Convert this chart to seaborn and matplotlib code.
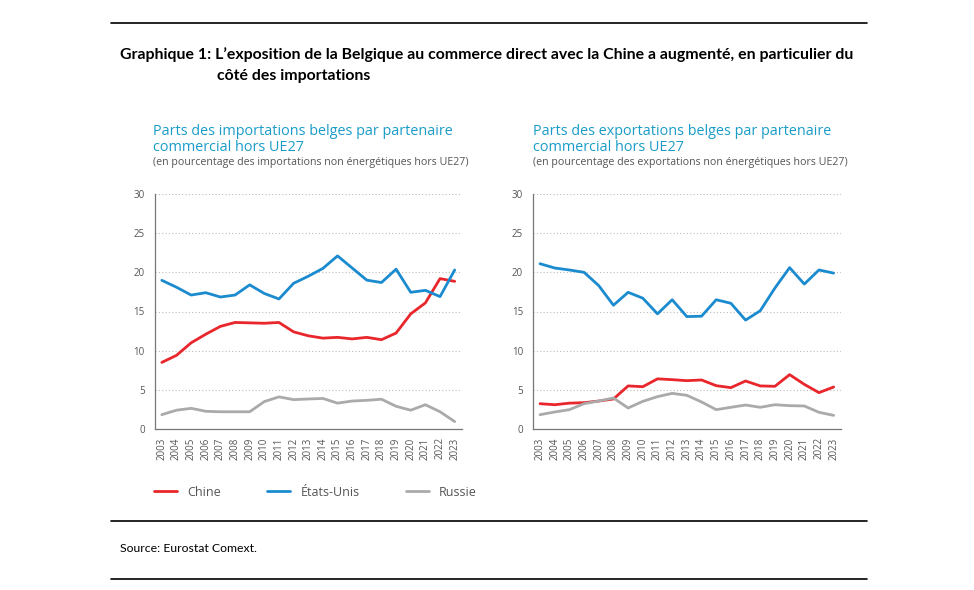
import numpy as np
import pandas as pd
import matplotlib
matplotlib.use("Agg")
import matplotlib.pyplot as plt
from matplotlib.lines import Line2D
import seaborn as sns

years = list(range(2003, 2024))

imp_chine = [8.5, 9.4, 11.0, 12.1, 13.1, 13.6, 13.55, 13.5, 13.6, 12.4, 11.9, 11.6, 11.7, 11.5, 11.7, 11.4, 12.25, 14.7, 16.1, 19.2, 18.85]
imp_usa = [18.98, 18.1, 17.1, 17.4, 16.85, 17.1, 18.4, 17.3, 16.6, 18.6, 19.5, 20.5, 22.1, 20.55, 19.0, 18.7, 20.4, 17.45, 17.7, 16.9, 20.3]
imp_russie = [1.83, 2.4, 2.64, 2.26, 2.2, 2.2, 2.2, 3.5, 4.1, 3.75, 3.83, 3.9, 3.3, 3.57, 3.66, 3.8, 2.9, 2.4, 3.1, 2.2, 0.95]

exp_chine = [3.23, 3.1, 3.3, 3.36, 3.57, 3.83, 5.5, 5.4, 6.4, 6.3, 6.17, 6.26, 5.53, 5.28, 6.13, 5.5, 5.45, 6.94, 5.7, 4.64, 5.36]
exp_usa = [21.1, 20.55, 20.3, 20.0, 18.3, 15.8, 17.45, 16.7, 14.7, 16.5, 14.35, 14.4, 16.5, 16.05, 13.9, 15.1, 18.0, 20.6, 18.5, 20.3, 19.9]
exp_russie = [1.83, 2.17, 2.47, 3.23, 3.57, 3.96, 2.68, 3.53, 4.13, 4.55, 4.3, 3.45, 2.47, 2.77, 3.06, 2.77, 3.1, 2.98, 2.94, 2.13, 1.74]

partners = ["Chine", "États-Unis", "Russie"]
colors = {"Chine": "#E8262B", "États-Unis": "#1B8BCF", "Russie": "#AAAAAA"}
y_ticks = [0, 5, 10, 15, 20, 25, 30]

main_title_1 = "Graphique 1: L’exposition de la Belgique au commerce direct avec la Chine a augmenté, en particulier du"
main_title_2 = "côté des importations"
left_title = "Parts des importations belges par partenaire\ncommercial hors UE27"
left_sub = "(en pourcentage des importations non énergétiques hors UE27)"
right_title = "Parts des exportations belges par partenaire\ncommercial hors UE27"
right_sub = "(en pourcentage des exportations non énergétiques hors UE27)"
source = "Source: Eurostat Comext."


def long_df(ch, us, ru):
    return pd.DataFrame({
        "year": years * 3,
        "value": ch + us + ru,
        "partner": ["Chine"] * len(years) + ["États-Unis"] * len(years) + ["Russie"] * len(years),
    })


sns.set_style("white")
plt.rcParams["font.family"] = ["Open Sans", "DejaVu Sans"]

W, H = 974, 590
fig = plt.figure(figsize=(W / 100, H / 100), dpi=100)


def fx(px):
    return px / W


def fy(py):
    return 1 - py / H


ax_l = fig.add_axes([fx(154.5), fy(429), fx(462) - fx(154.5), (429 - 194) / H])
ax_r = fig.add_axes([fx(532.7), fy(429), fx(841) - fx(532.7), (429 - 194) / H])

for ax, df in [(ax_l, long_df(imp_chine, imp_usa, imp_russie)),
               (ax_r, long_df(exp_chine, exp_usa, exp_russie))]:
    sns.lineplot(data=df, x="year", y="value", hue="partner", hue_order=partners,
                 palette=colors, linewidth=2.0, ax=ax, legend=False)
    ax.set_xlim(2002.5, 2023.5)
    ax.set_ylim(0, 30)
    ax.set_yticks(y_ticks)
    ax.set_xticks(years)
    ax.set_xticklabels([str(y) for y in years], rotation=90)
    ax.set_xticks([y + 0.5 for y in years], minor=True)
    ax.tick_params(axis="x", which="major", length=0, pad=6, labelsize=7, labelcolor="#555555")
    ax.tick_params(axis="x", which="minor", direction="in", length=6, width=0.8, color="#777777")
    ax.tick_params(axis="y", which="major", direction="out", length=4, width=0.8, color="#777777",
                   labelsize=7, labelcolor="#555555", pad=3)
    ax.set_xlabel("")
    ax.set_ylabel("")
    for s in ["top", "right"]:
        ax.spines[s].set_visible(False)
    for s in ["left", "bottom"]:
        ax.spines[s].set_color("#777777")
        ax.spines[s].set_linewidth(0.9)
    for yv in y_ticks[1:]:
        ax.axhline(yv, color="#BBBBBB", linestyle=(0, (1, 2)), linewidth=0.8, zorder=0)
    ax.set_facecolor("none")

# Titles
fig.text(fx(120), fy(55), main_title_1, fontsize=11.4, fontweight="bold",
         family=["Lato", "DejaVu Sans"], va="center", ha="left", color="black")
fig.text(fx(217), fy(76), main_title_2, fontsize=11.4, fontweight="bold",
         family=["Lato", "DejaVu Sans"], va="center", ha="left", color="black")

teal = "#1A9CC9"
for x0, t, s in [(153, left_title, left_sub), (533, right_title, right_sub)]:
    fig.text(fx(x0), fy(139.5), t, fontsize=10.4, color=teal, va="center", ha="left", linespacing=1.17)
    fig.text(fx(x0), fy(163), s, fontsize=7.65, color="#555555", va="center", ha="left")

# Legend
handles = [Line2D([0], [0], color=colors[p], lw=2.0) for p in partners]
fig.legend(handles, partners, loc="center left", bbox_to_anchor=(fx(154), fy(492)),
           ncol=3, frameon=False, fontsize=9, handlelength=1.85, handletextpad=0.8,
           columnspacing=3.7, labelcolor="#555555", borderpad=0, borderaxespad=0)

# Rules and source
for yy in [23, 521, 579]:
    fig.add_artist(Line2D([fx(111), fx(867)], [fy(yy), fy(yy)], color="black", lw=1.2))
fig.text(fx(120), fy(549), source, fontsize=8.8, family=["Lato", "DejaVu Sans"],
         va="center", ha="left", color="black")

fig.savefig("out.png", dpi=100)
